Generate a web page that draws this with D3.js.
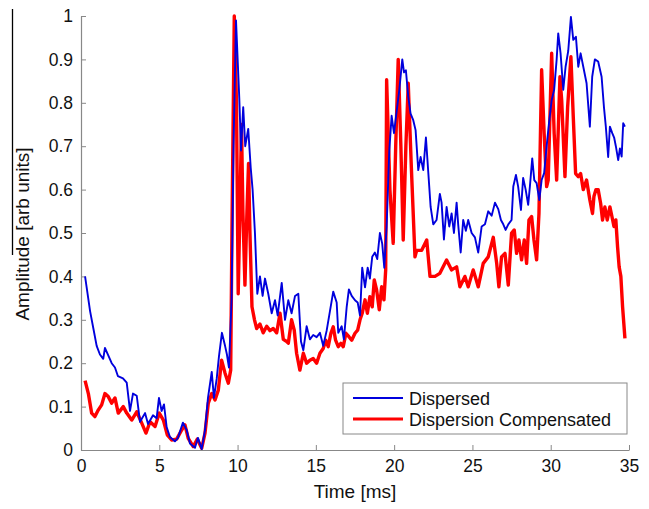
<!DOCTYPE html>
<html>
<head>
<meta charset="utf-8">
<script src="https://cdn.jsdelivr.net/npm/d3@7"></script>
<style>
  body { margin: 0; background: #fff; }
  text { font-family: Arial, "Liberation Sans", sans-serif; fill: #111; }
</style>
</head>
<body>
<div id="chart"></div>
<script>
// time [ms] / amplitude pairs
let dispersedT = [0.26,0.58,0.79,1.0,1.21,1.42,1.53,1.72,1.96,2.17,2.36,2.68,2.92,3.13,3.32,3.56,3.77,4.09,4.28,4.6,4.83,4.98,5.15,5.3,5.47,5.68,6.0,6.19,6.51,6.75,6.96,7.28,7.47,7.71,7.92,8.11,8.35,8.49,8.67,8.81,9.0,9.2,9.32,9.45,9.62,9.74,9.9,10.11,10.22,10.36,10.49,10.68,10.84,10.96,11.11,11.26,11.43,11.6,11.75,11.96,12.18,12.39,12.56,12.82,13.03,13.24,13.45,13.67,13.88,14.05,14.2,14.41,14.62,14.83,15.05,15.26,15.47,15.69,15.9,16.11,16.33,16.43,16.65,16.79,16.97,17.11,17.29,17.5,17.67,17.82,17.96,18.14,18.31,18.45,18.6,18.77,18.92,19.09,19.24,19.37,19.52,19.69,19.84,19.99,20.16,20.33,20.52,20.63,20.75,20.9,21.05,21.22,21.37,21.54,21.69,21.86,22.03,22.18,22.33,22.5,22.71,22.92,23.03,23.18,23.35,23.52,23.67,23.82,23.99,24.09,24.25,24.41,24.58,24.73,24.95,25.16,25.37,25.59,25.8,26.01,26.23,26.44,26.65,26.82,26.97,27.12,27.29,27.5,27.61,27.78,27.92,28.1,28.24,28.4,28.56,28.67,28.82,28.95,29.1,29.27,29.42,29.58,29.74,29.89,30.06,30.22,30.38,30.48,30.63,30.8,30.95,31.12,31.29,31.44,31.61,31.76,31.91,32.08,32.29,32.5,32.65,32.82,33.03,33.25,33.4,33.52,33.67,33.78,33.93,34.05,34.16,34.31,34.42,34.53,34.63,34.74];
let dispersedV = [0.40,0.32,0.28,0.24,0.22,0.21,0.235,0.22,0.20,0.19,0.17,0.165,0.155,0.09,0.13,0.125,0.065,0.085,0.06,0.08,0.073,0.12,0.09,0.105,0.053,0.03,0.02,0.028,0.063,0.046,0.015,0.005,0.028,0.002,0.046,0.12,0.18,0.12,0.165,0.215,0.27,0.24,0.22,0.19,0.35,0.70,0.99,0.81,0.69,0.79,0.70,0.74,0.65,0.60,0.50,0.36,0.40,0.355,0.395,0.36,0.315,0.345,0.31,0.385,0.30,0.345,0.315,0.355,0.36,0.25,0.23,0.285,0.255,0.265,0.26,0.27,0.24,0.275,0.32,0.365,0.34,0.27,0.285,0.255,0.33,0.37,0.355,0.345,0.34,0.31,0.42,0.375,0.42,0.395,0.445,0.455,0.44,0.50,0.475,0.42,0.515,0.69,0.77,0.73,0.78,0.83,0.90,0.87,0.875,0.815,0.775,0.76,0.737,0.645,0.675,0.645,0.72,0.64,0.56,0.52,0.53,0.59,0.57,0.485,0.56,0.515,0.545,0.50,0.57,0.52,0.455,0.53,0.505,0.53,0.50,0.49,0.455,0.515,0.52,0.55,0.54,0.57,0.555,0.53,0.52,0.507,0.52,0.53,0.607,0.634,0.607,0.553,0.627,0.60,0.565,0.607,0.672,0.622,0.615,0.576,0.622,0.638,0.70,0.753,0.806,0.83,0.90,0.96,0.914,0.83,0.883,0.92,0.998,0.945,0.952,0.883,0.914,0.883,0.845,0.745,0.86,0.90,0.895,0.86,0.79,0.745,0.675,0.745,0.73,0.72,0.70,0.668,0.695,0.676,0.753,0.745];

let compensatedT = [0.26,0.47,0.68,0.89,1.1,1.32,1.53,1.74,1.96,2.17,2.38,2.7,2.92,3.24,3.56,3.88,4.15,4.41,4.73,5.0,5.26,5.51,5.79,6.11,6.43,6.64,6.85,7.17,7.43,7.71,7.92,8.13,8.35,8.56,8.77,8.98,9.2,9.41,9.56,9.64,9.79,9.93,10.04,10.15,10.25,10.34,10.47,10.6,10.7,10.79,10.92,11.08,11.22,11.43,11.64,11.86,12.07,12.28,12.5,12.71,12.92,13.14,13.24,13.45,13.62,13.77,13.98,14.2,14.41,14.62,14.83,15.05,15.26,15.47,15.63,15.79,15.96,16.11,16.26,16.43,16.6,16.75,16.92,17.11,17.29,17.5,17.67,17.82,17.96,18.14,18.29,18.45,18.6,18.73,18.88,19.05,19.2,19.35,19.46,19.52,19.73,19.94,20.1,20.26,20.43,20.58,20.75,20.9,21.1,21.33,21.44,21.76,22.08,22.29,22.61,22.92,23.35,23.67,23.99,24.2,24.52,24.73,25.05,25.37,25.69,26.01,26.33,26.55,26.69,26.86,27.08,27.29,27.5,27.67,27.82,27.97,28.14,28.31,28.46,28.61,28.78,28.93,29.1,29.25,29.42,29.58,29.74,29.84,30.06,30.22,30.38,30.59,30.7,30.91,31.08,31.29,31.44,31.59,31.76,31.91,32.08,32.29,32.5,32.67,32.76,32.89,33.03,33.19,33.31,33.46,33.61,33.78,33.91,34.04,34.16,34.27,34.37,34.48,34.59,34.74];
let compensatedV = [0.16,0.13,0.085,0.077,0.092,0.104,0.13,0.123,0.108,0.12,0.085,0.10,0.085,0.069,0.088,0.062,0.039,0.065,0.054,0.085,0.069,0.035,0.023,0.025,0.046,0.058,0.027,0.008,0.025,0.004,0.039,0.108,0.13,0.115,0.138,0.207,0.177,0.154,0.184,0.50,1.0,0.80,0.36,0.55,0.75,0.55,0.38,0.55,0.66,0.50,0.33,0.30,0.28,0.29,0.27,0.285,0.275,0.28,0.27,0.315,0.255,0.25,0.246,0.30,0.276,0.223,0.184,0.223,0.20,0.207,0.211,0.20,0.223,0.234,0.253,0.238,0.269,0.284,0.253,0.238,0.246,0.238,0.269,0.261,0.253,0.269,0.276,0.30,0.315,0.346,0.315,0.353,0.33,0.392,0.369,0.323,0.376,0.346,0.415,0.853,0.60,0.476,0.70,0.90,0.70,0.484,0.70,0.845,0.65,0.445,0.46,0.46,0.484,0.40,0.40,0.407,0.438,0.415,0.422,0.376,0.40,0.376,0.415,0.376,0.43,0.445,0.49,0.43,0.376,0.445,0.453,0.38,0.50,0.507,0.453,0.484,0.438,0.484,0.43,0.53,0.538,0.484,0.438,0.545,0.876,0.73,0.607,0.622,0.914,0.73,0.622,0.86,0.806,0.63,0.79,0.906,0.768,0.637,0.63,0.637,0.60,0.622,0.576,0.545,0.584,0.60,0.60,0.568,0.53,0.56,0.53,0.56,0.538,0.515,0.53,0.468,0.422,0.40,0.33,0.257];

let xTicks = [0, 5, 10, 15, 20, 25, 30, 35];
let yTicks = [0, 0.1, 0.2, 0.3, 0.4, 0.5, 0.6, 0.7, 0.8, 0.9, 1];
let seriesNames = ['Dispersed', 'Dispersion Compensated'];
let seriesColors = ['#0000dd', '#ff0000'];

let width = 649, height = 509;
let plot = { left: 81, right: 629, top: 16, bottom: 450 };

var svg = d3.select('#chart').append('svg')
    .attr('width', width)
    .attr('height', height);

var x = d3.scaleLinear().domain([0, 35]).range([plot.left, plot.right]);
var y = d3.scaleLinear().domain([0, 1]).range([plot.bottom, plot.top]);

// stray rule on the left edge of the scanned figure
svg.append('line')
    .attr('x1', 12.5).attr('x2', 12.5)
    .attr('y1', 9).attr('y2', 255)
    .attr('stroke', '#000').attr('stroke-width', 1.3);

var xAxis = d3.axisBottom(x).tickValues(xTicks).tickSizeInner(-5).tickSizeOuter(0).tickPadding(8);
var yAxis = d3.axisLeft(y).tickValues(yTicks).tickSizeInner(-5).tickSizeOuter(0).tickPadding(8)
    .tickFormat(d3.format('~g'));

var gx = svg.append('g')
    .attr('transform', 'translate(0,' + plot.bottom + ')')
    .call(xAxis);
var gy = svg.append('g')
    .attr('transform', 'translate(' + plot.left + ',0)')
    .call(yAxis);

[gx, gy].forEach(function(g) {
  g.select('.domain').attr('stroke', '#888').attr('stroke-width', 1.2);
  g.selectAll('.tick line').attr('stroke', '#888');
  g.selectAll('.tick text').style('font-size', '17.5px').attr('fill', '#111');
});
gx.selectAll('.tick text').attr('dy', '0.78em');

svg.append('text')
    .attr('x', (plot.left + plot.right) / 2)
    .attr('y', 498)
    .attr('text-anchor', 'middle')
    .style('font-size', '19px')
    .text('Time [ms]');

svg.append('text')
    .attr('transform', 'translate(29,' + 234 + ') rotate(-90)')
    .attr('text-anchor', 'middle')
    .style('font-size', '19px')
    .text('Amplitude [arb units]');

var line = d3.line()
    .x(function(d) { return x(d[0]); })
    .y(function(d) { return y(d[1]); });

var dispersed = d3.zip(dispersedT, dispersedV);
var compensated = d3.zip(compensatedT, compensatedV);

svg.append('path')
    .datum(compensated)
    .attr('d', line)
    .attr('fill', 'none')
    .attr('stroke', seriesColors[1])
    .attr('stroke-width', 3.4)
    .attr('stroke-linejoin', 'round');

svg.append('path')
    .datum(dispersed)
    .attr('d', line)
    .attr('fill', 'none')
    .attr('stroke', seriesColors[0])
    .attr('stroke-width', 1.9)
    .attr('stroke-linejoin', 'round');

// legend
var legend = svg.append('g').attr('transform', 'translate(343,383)');
legend.append('rect')
    .attr('width', 284).attr('height', 51)
    .attr('fill', '#fff').attr('stroke', '#888').attr('stroke-width', 1);
seriesNames.forEach(function(name, i) {
  var yy = 15 + i * 21;
  legend.append('line')
      .attr('x1', 10).attr('x2', 60)
      .attr('y1', yy).attr('y2', yy)
      .attr('stroke', seriesColors[i])
      .attr('stroke-width', i == 0 ? 2 : 3);
  legend.append('text')
      .attr('x', 66).attr('y', yy + 6.5)
      .style('font-size', '18px')
      .text(name);
});
</script>
</body>
</html>
